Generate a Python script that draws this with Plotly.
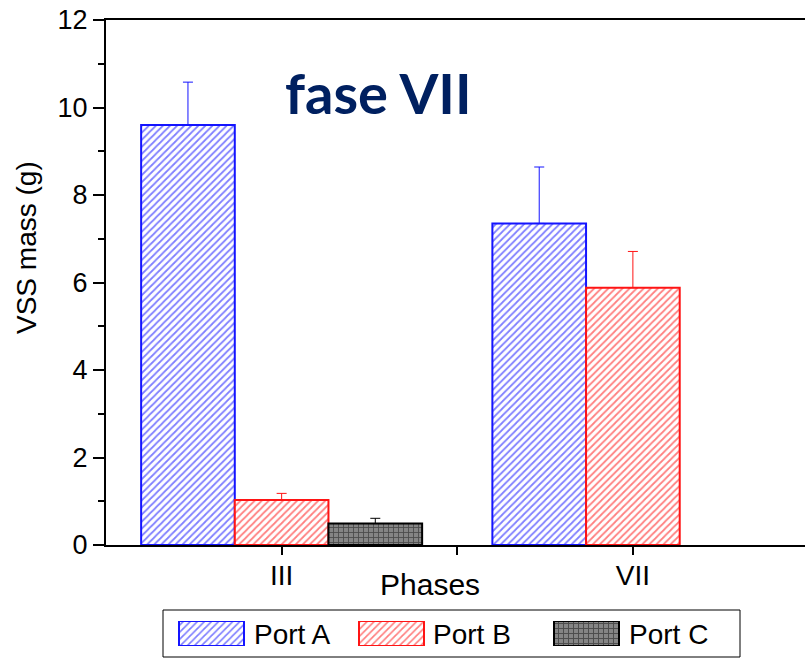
import plotly.graph_objects as go

# Phase positions on the category axis (III = 0, VII = 1)
phase_pos = [0, 1]
phase_labels = ["III", "VII"]

port_names = ["Port A", "Port B", "Port C"]
port_a = [9.6, 7.35]
port_a_err = [0.98, 1.29]
port_b = [1.03, 5.88]
port_b_err = [0.15, 0.83]
port_c = [0.49, None]
port_c_err = [0.12, 0]

font_family = "Liberation Sans, Arial, sans-serif"

W, H = 805, 658
M_LEFT, M_TOP = 106, 20
AXIS_BOTTOM_PX = 545          # pixel row of the x axis
PLOT_H = H - M_TOP            # bottom margin is zero; the main y axis domain leaves room below
PLOT_W = W - M_LEFT

def py_to_paper(py):
    return (H - py) / PLOT_H

def px_to_paper(px):
    return (px - M_LEFT) / PLOT_W

styles = {
    "Port A": dict(line="#1414ff", pattern=dict(shape="/", fgcolor="#0000ff", bgcolor="white", size=5, solidity=0.35)),
    "Port B": dict(line="#ff1414", pattern=dict(shape="/", fgcolor="#ff0000", bgcolor="white", size=5, solidity=0.35)),
    "Port C": dict(line="#000000", pattern=dict(shape="+", fgcolor="#111111", bgcolor="#858585", size=5, solidity=0.32)),
}

fig = go.Figure()

def add_port(name, values, errors):
    st = styles[name]
    fig.add_trace(go.Bar(
        name=name, x=phase_pos, y=values, showlegend=False,
        marker=dict(color="white", line=dict(color=st["line"], width=2), pattern=st["pattern"]),
        error_y=dict(type="data", array=errors, arrayminus=[0] * len(errors),
                     symmetric=False, color=st["line"], thickness=1, width=5),
    ))

add_port("Port A", port_a, port_a_err)
add_port("Port B", port_b, port_b_err)
add_port("Port C", port_c, port_c_err)

# Legend: wide patterned swatches drawn on a small overlay axis in pixel units
swatch_left = [179, 359, 554]
swatch_w = 65
text_left = [254, 433, 629]
fig.add_trace(go.Bar(
    x=[l + swatch_w / 2 for l in swatch_left], y=[1, 1, 1], width=swatch_w,
    xaxis="x2", yaxis="y2", showlegend=False, hoverinfo="skip",
    marker=dict(
        color="white",
        line=dict(color=[styles[n]["line"] for n in port_names], width=2),
        pattern=dict(
            shape=[styles[n]["pattern"]["shape"] for n in port_names],
            fgcolor=[styles[n]["pattern"]["fgcolor"] for n in port_names],
            bgcolor=[styles[n]["pattern"]["bgcolor"] for n in port_names],
            size=5, solidity=0.34,
        ),
    ),
))

annotations = [
    dict(text="VSS mass (g)", xref="paper", yref="paper", x=px_to_paper(27), y=py_to_paper(248),
         xanchor="center", yanchor="middle", textangle=-90, showarrow=False, font=dict(size=28)),
    dict(text="Phases", xref="paper", yref="paper", x=px_to_paper(430), y=py_to_paper(584),
         xanchor="center", yanchor="middle", showarrow=False, font=dict(size=30)),
    dict(text="<b>fase VII</b>", xref="paper", yref="paper", x=px_to_paper(378), y=py_to_paper(92),
         xanchor="center", yanchor="middle", showarrow=False,
         font=dict(size=56, color="#002060", family="Lato, Open Sans, sans-serif")),
]
for name, tl in zip(port_names, text_left):
    annotations.append(dict(text=name, xref="paper", yref="paper", x=px_to_paper(tl - 2),
                            y=py_to_paper(634), xanchor="left", yanchor="middle",
                            showarrow=False, font=dict(size=28)))

fig.update_layout(
    width=W, height=H,
    margin=dict(l=M_LEFT, r=0, t=M_TOP, b=0, autoexpand=False),
    paper_bgcolor="white", plot_bgcolor="rgba(0,0,0,0)",
    barmode="group", bargap=0.2, bargroupgap=0,
    font=dict(family=font_family, size=24, color="black"),
    showlegend=False,
    xaxis=dict(
        range=[-0.5, 1.49], showgrid=False, zeroline=False,
        tickmode="array", tickvals=[0, 0.5, 1], ticktext=[phase_labels[0], "", phase_labels[1]],
        ticks="outside", ticklen=8, tickwidth=2, tickcolor="black",
        showline=True, linecolor="black", linewidth=2, mirror=True,
        tickfont=dict(size=28), ticklabelstandoff=-4,
    ),
    yaxis=dict(
        domain=[py_to_paper(AXIS_BOTTOM_PX), 1],
        range=[0, 12], showgrid=False, zeroline=False,
        tickmode="array", tickvals=[0, 2, 4, 6, 8, 10, 12],
        ticks="outside", ticklen=11, tickwidth=2, tickcolor="black",
        showline=True, linecolor="black", linewidth=2,
        minor=dict(tickvals=[1, 3, 5, 7, 9, 11], ticks="outside", ticklen=6,
                   tickwidth=2, tickcolor="black"),
        tickfont=dict(size=27),
    ),
    xaxis2=dict(domain=[0, 1], range=[M_LEFT, W], visible=False, fixedrange=True),
    yaxis2=dict(domain=[py_to_paper(646), py_to_paper(621)], range=[0, 1],
                visible=False, fixedrange=True, anchor="x2"),
    shapes=[
        dict(type="rect", xref="paper", yref="paper",
             x0=px_to_paper(163), x1=px_to_paper(740), y0=py_to_paper(657), y1=py_to_paper(610),
             line=dict(color="black", width=1), fillcolor="rgba(0,0,0,0)", layer="below"),
    ],
    annotations=annotations,
)

fig.write_html("out.html")
